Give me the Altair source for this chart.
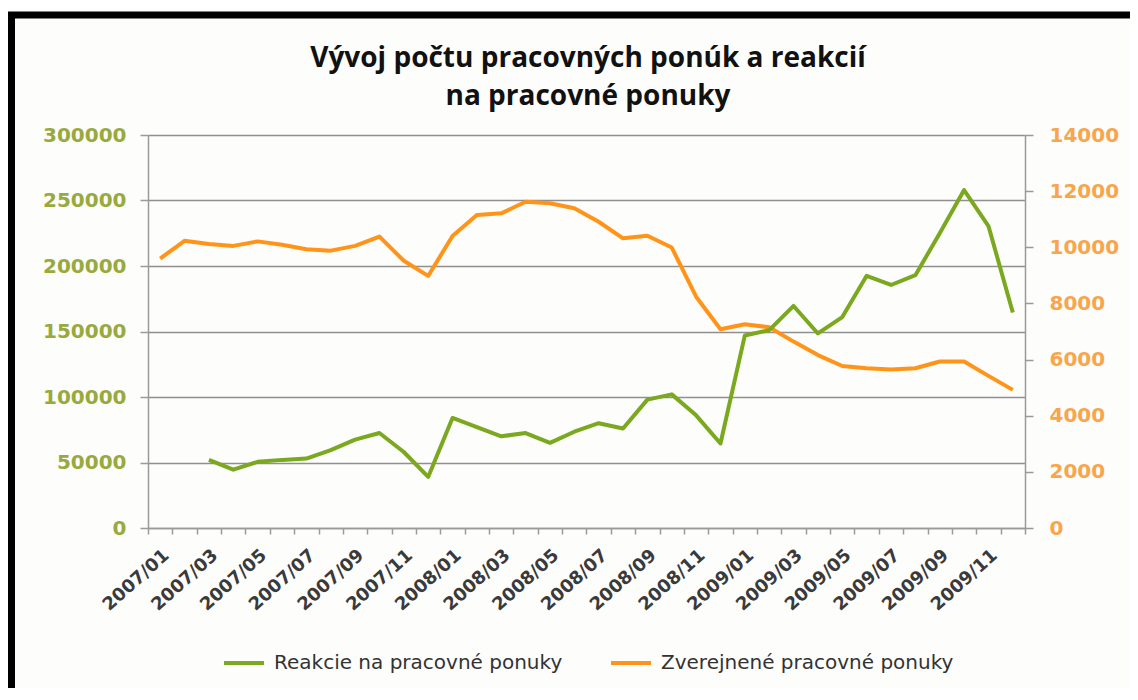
import altair as alt
import pandas as pd

months = ["2007/01", "2007/02", "2007/03", "2007/04", "2007/05", "2007/06",
          "2007/07", "2007/08", "2007/09", "2007/10", "2007/11", "2007/12",
          "2008/01", "2008/02", "2008/03", "2008/04", "2008/05", "2008/06",
          "2008/07", "2008/08", "2008/09", "2008/10", "2008/11", "2008/12",
          "2009/01", "2009/02", "2009/03", "2009/04", "2009/05", "2009/06",
          "2009/07", "2009/08", "2009/09", "2009/10", "2009/11", "2009/12"]

reakcie = [None, None, 52000, 44500, 50500, 52000, 53000, 59500, 67500, 72500,
           58000, 39000, 84000, 77000, 70000, 72500, 65000, 73500, 80000, 76000,
           98000, 102000, 86000, 64500, 147000, 151000, 169500, 148500, 161000,
           192500, 185500, 193000, 225000, 258000, 230500, 164500]

zverejnene = [9600, 10230, 10120, 10050, 10210, 10090, 9930, 9880, 10050, 10380,
              9520, 8980, 10400, 11150, 11210, 11620, 11570, 11390, 10910, 10320,
              10410, 9990, 8240, 7080, 7260, 7150, 6640, 6160, 5770, 5690, 5650,
              5690, 5930, 5930, 5420, 4920]

series_names = ["Reakcie na pracovné ponuky", "Zverejnené pracovné ponuky"]
series_colors = ["#7AA81E", "#FF9419"]
title_lines = ["Vývoj počtu  pracovných ponúk a reakcií", "na pracovné ponuky"]

left_ticks = [0, 50000, 100000, 150000, 200000, 250000, 300000]
right_ticks = [0, 2000, 4000, 6000, 8000, 10000, 12000, 14000]

df = pd.DataFrame({"month": months * 2,
                   "series": [series_names[0]] * len(months) + [series_names[1]] * len(months),
                   "value": reakcie + zverejnene})

AXIS_GREY = "#9a9a9a"

x_enc = alt.X("month:N", sort=months, title=None,
              scale=alt.Scale(paddingInner=0, paddingOuter=0),
              axis=alt.Axis(labelAngle=-42, labelFontSize=18, labelFont="DejaVu Sans",
                            labelFontWeight="bold",
                            labelColor="#3a3a3a", labelOverlap=False,
                            labelExpr="parseInt(substring(datum.label,5,7)) % 2 == 1 ? datum.label : ''",
                            tickBand="extent", tickSize=6, tickColor=AXIS_GREY, tickWidth=1.5,
                            domainColor=AXIS_GREY, domainWidth=1.5, labelPadding=12,
                            grid=False))

color_enc = alt.Color("series:N", scale=alt.Scale(domain=series_names, range=series_colors),
                      legend=alt.Legend(title=None, orient="none", direction="horizontal",
                                        legendX=74, legendY=506, symbolType="stroke",
                                        symbolSize=1600, symbolStrokeWidth=4,
                                        labelFont="DejaVu Sans", labelFontSize=20,
                                        labelColor="#333333", labelOffset=8, labelLimit=500,
                                        columnPadding=40, padding=0))

base = alt.Chart(df)

left = base.transform_filter(alt.datum.series == series_names[0]).mark_line(
    strokeWidth=4, strokeJoin="round").encode(
    x=x_enc,
    y=alt.Y("value:Q", title=None,
            scale=alt.Scale(domain=[0, 300000], nice=False),
            axis=alt.Axis(values=left_ticks, format="d", labelFont="DejaVu Sans",
                          labelFontWeight="bold",
                          labelFontSize=20, labelColor="#98AA3E", labelPadding=14,
                          tickSize=8, tickColor=AXIS_GREY, tickWidth=1.5,
                          domainColor=AXIS_GREY, domainWidth=1.5,
                          grid=True, gridColor="#8f8f8f", gridWidth=1.5)),
    color=color_enc)

right = base.transform_filter(alt.datum.series == series_names[1]).mark_line(
    strokeWidth=4, strokeJoin="round").encode(
    x=x_enc,
    y=alt.Y("value:Q", title=None,
            scale=alt.Scale(domain=[0, 14000], nice=False),
            axis=alt.Axis(orient="right", values=right_ticks, format="d",
                          labelFont="DejaVu Sans",
                          labelFontWeight="bold", labelFontSize=20, labelColor="#F8A54C",
                          labelPadding=16, tickSize=8, tickColor=AXIS_GREY, tickWidth=1.5,
                          domainColor=AXIS_GREY, domainWidth=1.5, grid=False)),
    color=color_enc)

title_df = pd.DataFrame({"line": title_lines, "row": [0, 1]})
title_l1 = alt.Chart(title_df).transform_filter(alt.datum.row == 0).mark_text(
    font="Open Sans", fontWeight="bold", fontSize=28, color="#111111",
    align="center", baseline="alphabetic").encode(
    text="line:N", x=alt.value(440), y=alt.value(-68))
title_l2 = alt.Chart(title_df).transform_filter(alt.datum.row == 1).mark_text(
    font="Open Sans", fontWeight="bold", fontSize=28, color="#111111",
    align="center", baseline="alphabetic").encode(
    text="line:N", x=alt.value(440), y=alt.value(-30))

frame_left = alt.Chart(pd.DataFrame({"k": [0]})).mark_rule(
    color="black", strokeWidth=7, strokeCap="butt").encode(
    x=alt.value(-136.5), y=alt.value(-123), y2=alt.value(700))
frame_top = alt.Chart(pd.DataFrame({"k": [0]})).mark_rule(
    color="black", strokeWidth=7, strokeCap="butt").encode(
    x=alt.value(-140), x2=alt.value(1100), y=alt.value(-120))

chart = alt.layer(right, left, title_l1, title_l2, frame_left, frame_top).resolve_scale(
    y="independent").properties(
    width=877, height=393,
    autosize=alt.AutoSizeParams(type="none"),
    padding={"left": 140, "top": 127, "right": 105, "bottom": 160},
    background="#fdfdfc",
).configure_view(stroke=None)

chart.save("out.html", embed_options={"renderer": "svg", "actions": False})
